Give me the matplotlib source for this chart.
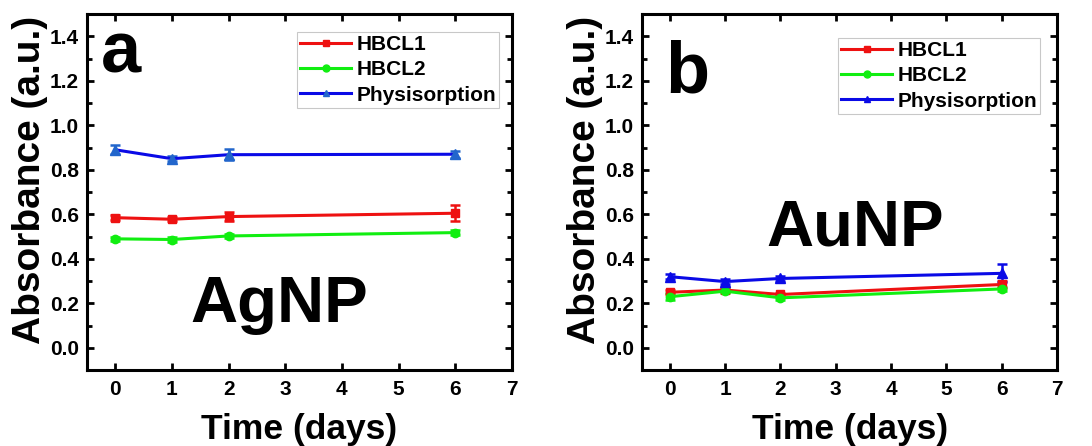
import matplotlib
matplotlib.use("Agg")
import matplotlib.pyplot as plt
from matplotlib.ticker import MultipleLocator, FormatStrFormatter
from matplotlib.lines import Line2D

plt.rcParams['font.family'] = ['Liberation Sans', 'DejaVu Sans']
plt.rcParams['font.weight'] = 'bold'

days = [0, 1, 2, 6]
series_names = ["HBCL1", "HBCL2", "Physisorption"]

# Panel a: AgNP
ag_hbcl1 = [0.585, 0.578, 0.590, 0.605]
ag_hbcl1_err = [0.010, 0.010, 0.020, 0.035]
ag_hbcl2 = [0.490, 0.487, 0.503, 0.518]
ag_hbcl2_err = [0.010, 0.010, 0.008, 0.010]
ag_phys = [0.890, 0.850, 0.868, 0.870]
ag_phys_err = [0.020, 0.010, 0.025, 0.015]

# Panel b: AuNP
au_hbcl1 = [0.250, 0.260, 0.240, 0.285]
au_hbcl1_err = [0.010, 0.010, 0.008, 0.015]
au_hbcl2 = [0.230, 0.255, 0.225, 0.265]
au_hbcl2_err = [0.015, 0.010, 0.008, 0.010]
au_phys = [0.320, 0.298, 0.312, 0.335]
au_phys_err = [0.010, 0.012, 0.010, 0.040]

RED = '#ee1111'
GREEN = '#11ee11'
BLUE = '#0a0ae6'

fig = plt.figure(figsize=(10.92, 4.46), dpi=100)
ax_a = fig.add_axes([0.0797, 0.170, 0.389, 0.7986])
ax_b = fig.add_axes([0.588, 0.170, 0.380, 0.7986])

def draw(ax, h1, h1e, h2, h2e, ph, phe, phys_marker_color, letter, letter_pos,
         name, name_pos, legend_anchor):
    kw = dict(lw=2.2, elinewidth=1.8, capsize=3.5, capthick=1.8)
    ax.errorbar(days, h1, yerr=h1e, color=RED, marker='s', ms=6,
                mfc=RED, mec=RED, **kw)
    ax.errorbar(days, h2, yerr=h2e, color=GREEN, marker='o', ms=6,
                mfc=GREEN, mec=GREEN, **kw)
    ax.errorbar(days, ph, yerr=phe, color=BLUE, marker='^', ms=7,
                ecolor=phys_marker_color, mfc=phys_marker_color,
                mec=phys_marker_color, **kw)
    ax.set_xlim(-0.5, 7)
    ax.set_ylim(-0.1, 1.5)
    ax.xaxis.set_major_locator(MultipleLocator(1))
    ax.yaxis.set_major_locator(MultipleLocator(0.2))
    ax.yaxis.set_minor_locator(MultipleLocator(0.1))
    ax.yaxis.set_major_formatter(FormatStrFormatter('%.1f'))
    ax.tick_params(which='both', direction='in', top=True, right=True,
                   width=2, labelsize=15)
    ax.tick_params(which='major', length=5)
    ax.tick_params(which='minor', length=3.5)
    ax.tick_params(axis='x', pad=7)
    ax.tick_params(axis='y', pad=6)
    for s in ax.spines.values():
        s.set_linewidth(2.2)
    ax.set_xlabel('Time (days)', fontsize=25.5, fontweight='bold', labelpad=10)
    ax.set_ylabel('Absorbance (a.u.)', fontsize=28, fontweight='bold', labelpad=1)
    ax.yaxis.label.set_y(0.534)
    ax.text(letter_pos[0], letter_pos[1], letter, transform=ax.transAxes,
            fontsize=52, fontweight='bold', ha='left', va='baseline')
    ax.text(name_pos[0], name_pos[1], name, transform=ax.transAxes,
            fontsize=47, fontweight='bold', ha='center', va='baseline')
    handles = [
        Line2D([], [], color=RED, lw=2.2, marker='s', ms=5, mfc=RED, mec=RED),
        Line2D([], [], color=GREEN, lw=2.2, marker='o', ms=5, mfc=GREEN, mec=GREEN),
        Line2D([], [], color=BLUE, lw=2.2, marker='^', ms=5,
               mfc=phys_marker_color, mec=phys_marker_color),
    ]
    leg = ax.legend(handles, series_names, loc='upper left',
                    bbox_to_anchor=legend_anchor, bbox_transform=fig.transFigure,
                    fontsize=15, handlelength=2.45, handletextpad=0.25,
                    labelspacing=0.3, borderpad=0.15, borderaxespad=0,
                    fancybox=False, frameon=True, edgecolor='#bbbbbb')
    leg.get_frame().set_linewidth(0.8)

draw(ax_a, ag_hbcl1, ag_hbcl1_err, ag_hbcl2, ag_hbcl2_err, ag_phys, ag_phys_err,
     '#2266cc', 'a', (0.033, 0.837), 'AgNP', (0.452, 0.136),
     (297 / 1092, 1 - 32 / 446))
draw(ax_b, au_hbcl1, au_hbcl1_err, au_hbcl2, au_hbcl2_err, au_phys, au_phys_err,
     BLUE, 'b', (0.055, 0.78), 'AuNP', (0.513, 0.351),
     (838 / 1092, 1 - 38 / 446))

fig.savefig('out.png', dpi=100)
